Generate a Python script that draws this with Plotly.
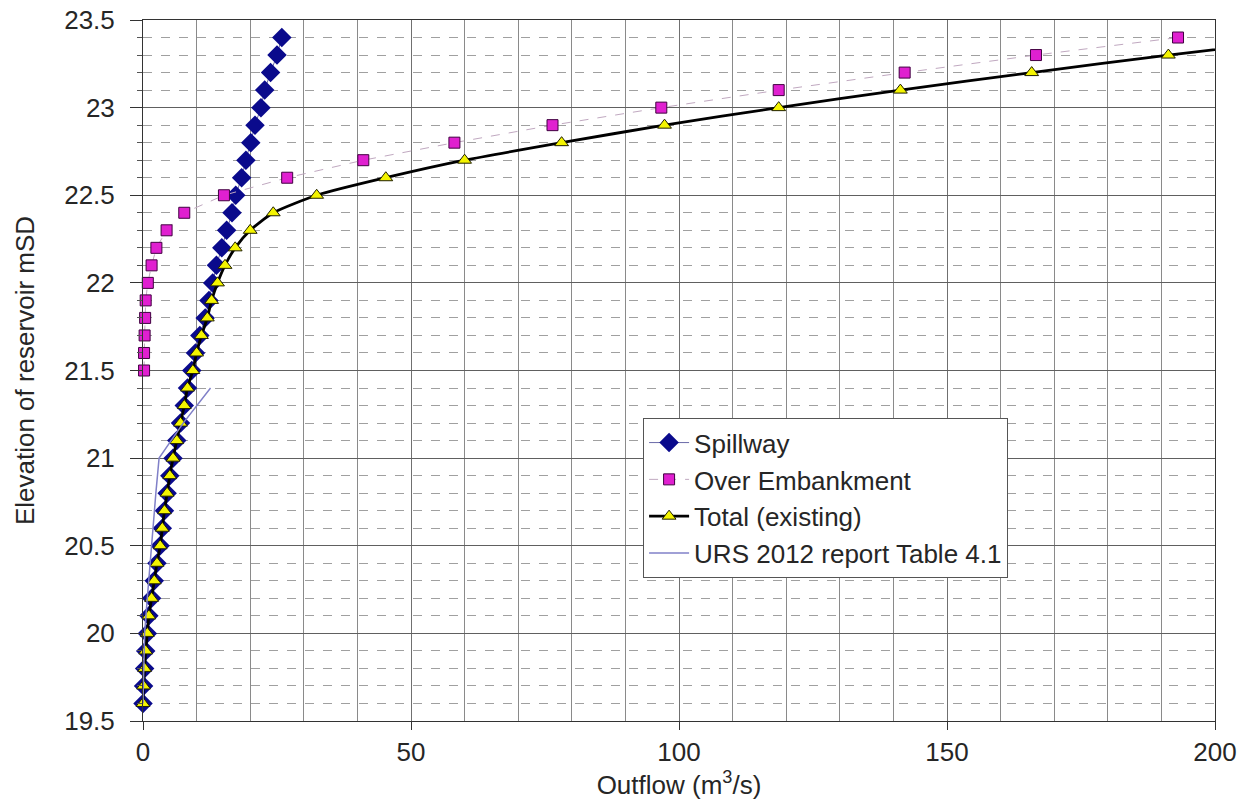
import plotly.graph_objects as go

# Reservoir elevation (mSD) for the spillway / total rating curves
elevation = [19.6, 19.7, 19.8, 19.9, 20.0, 20.1, 20.2, 20.3, 20.4, 20.5,
             20.6, 20.7, 20.8, 20.9, 21.0, 21.1, 21.2, 21.3, 21.4, 21.5,
             21.6, 21.7, 21.8, 21.9, 22.0, 22.1, 22.2, 22.3, 22.4, 22.5,
             22.6, 22.7, 22.8, 22.9, 23.0, 23.1, 23.2, 23.3, 23.4]

# Spillway outflow (m3/s)
spillway = [0.0, 0.1, 0.3, 0.5, 0.8, 1.1, 1.6, 2.1, 2.6, 3.2,
            3.6, 4.0, 4.5, 5.0, 5.6, 6.3, 7.0, 7.7, 8.3, 9.1,
            9.8, 10.6, 11.6, 12.3, 13.0, 13.7, 14.7, 15.6, 16.6, 17.3,
            18.4, 19.2, 20.1, 20.9, 22.0, 22.7, 23.8, 25.0, 25.9]

# Overtopping of the embankment starts at 21.5 mSD
embank_elev = [21.5, 21.6, 21.7, 21.8, 21.9, 22.0, 22.1, 22.2, 22.3, 22.4,
               22.5, 22.6, 22.7, 22.8, 22.9, 23.0, 23.1, 23.2, 23.3, 23.4]
embankment = [0.2, 0.2, 0.3, 0.4, 0.5, 0.9, 1.6, 2.5, 4.4, 7.7,
              15.1, 26.9, 41.1, 58.1, 76.4, 96.7, 118.6, 142.1, 166.6, 193.1]

# Total outflow, existing arrangement (m3/s)
total = [0.0, 0.1, 0.3, 0.5, 0.8, 1.1, 1.6, 2.1, 2.6, 3.2,
         3.6, 4.0, 4.5, 5.0, 5.6, 6.3, 7.0, 7.7, 8.3, 9.3,
         10.0, 10.9, 12.0, 12.8, 13.9, 15.3, 17.2, 20.0, 24.3, 32.4,
         45.3, 60.0, 78.1, 97.3, 118.6, 141.3, 165.8, 191.3, 219.0]

# URS 2012 report, Table 4.1
urs_elev = [19.6, 20.0, 20.2, 20.4, 20.6, 20.8, 21.0, 21.2, 21.4]
urs_flow = [0.0, 0.3, 0.8, 1.3, 1.9, 2.4, 3.0, 7.5, 12.6]

font_family = "Liberation Sans, Arial, sans-serif"
text_col = "#262626"

fig = go.Figure()

fig.add_trace(go.Scatter(
    x=spillway, y=elevation, name="Spillway", mode="lines+markers",
    line=dict(color="#6a6aa8", width=1),
    marker=dict(symbol="diamond", size=15, color="#0a0a8c",
                line=dict(color="#0a0a8c", width=0)),
    cliponaxis=False, legendgroup="a",
))

fig.add_trace(go.Scatter(
    x=embankment, y=embank_elev, name="Over Embankment", mode="lines+markers",
    line=dict(color="#c0a8c0", width=1, dash="dash"),
    marker=dict(symbol="square", size=11, color="#e020d0",
                line=dict(color="#400040", width=1)),
    cliponaxis=False, legendgroup="b",
))

# Smoothed total curve and its markers
fig.add_trace(go.Scatter(
    x=total, y=elevation, name="Total (existing)", mode="lines+markers",
    line=dict(color="#000000", width=2.8, shape="spline", smoothing=0.6),
    marker=dict(symbol="triangle-up", size=12, color="#f4f400",
                line=dict(color="#202000", width=1)),
    cliponaxis=False, legendgroup="c",
))

fig.add_trace(go.Scatter(
    x=urs_flow, y=urs_elev, name="URS 2012 report Table 4.1", mode="lines",
    line=dict(color="#8080c8", width=1.5),
    legendgroup="d",
))

fig.update_layout(
    width=1257, height=809,
    margin=dict(l=143, r=42, t=20, b=88),
    paper_bgcolor="white", plot_bgcolor="white",
    font=dict(family=font_family, color=text_col, size=25),
    legend=dict(
        x=0.4665, y=0.432, xanchor="left", yanchor="top",
        bgcolor="white", bordercolor="#555555", borderwidth=1,
        font=dict(size=26, color=text_col), itemwidth=40,
        tracegroupgap=0,
    ),
    showlegend=True,
)

fig.update_xaxes(
    range=[0, 200], dtick=50, tick0=0, automargin=False,
    showline=True, linecolor="#333333", linewidth=1, mirror=True,
    ticks="outside", ticklen=8, tickcolor="#333333",
    tickfont=dict(size=26, color=text_col),
    showgrid=True, gridcolor="#707070", gridwidth=1,
    minor=dict(dtick=10, showgrid=True, gridcolor="#8a8a8a", gridwidth=1),
    zeroline=False,
    title=dict(text="Outflow (m<sup>3</sup>/s)", font=dict(size=26, color=text_col), standoff=8),
)

fig.update_yaxes(
    range=[19.5, 23.5], dtick=0.5, tick0=19.5, automargin=False,
    showline=True, linecolor="#333333", linewidth=1, mirror=True,
    ticks="outside", ticklen=12, tickcolor="#333333",
    tickfont=dict(size=26, color=text_col), ticklabelstandoff=10,
    showgrid=True, gridcolor="#606060", gridwidth=1,
    minor=dict(dtick=0.1, showgrid=True, gridcolor="#a0a0a0", gridwidth=1,
               griddash="dash", ticks="outside", ticklen=5, tickcolor="#555555"),
    zeroline=False,
    title=dict(text="Elevation of reservoir mSD", font=dict(size=26, color=text_col), standoff=22),
)

fig.write_html("out.html")
